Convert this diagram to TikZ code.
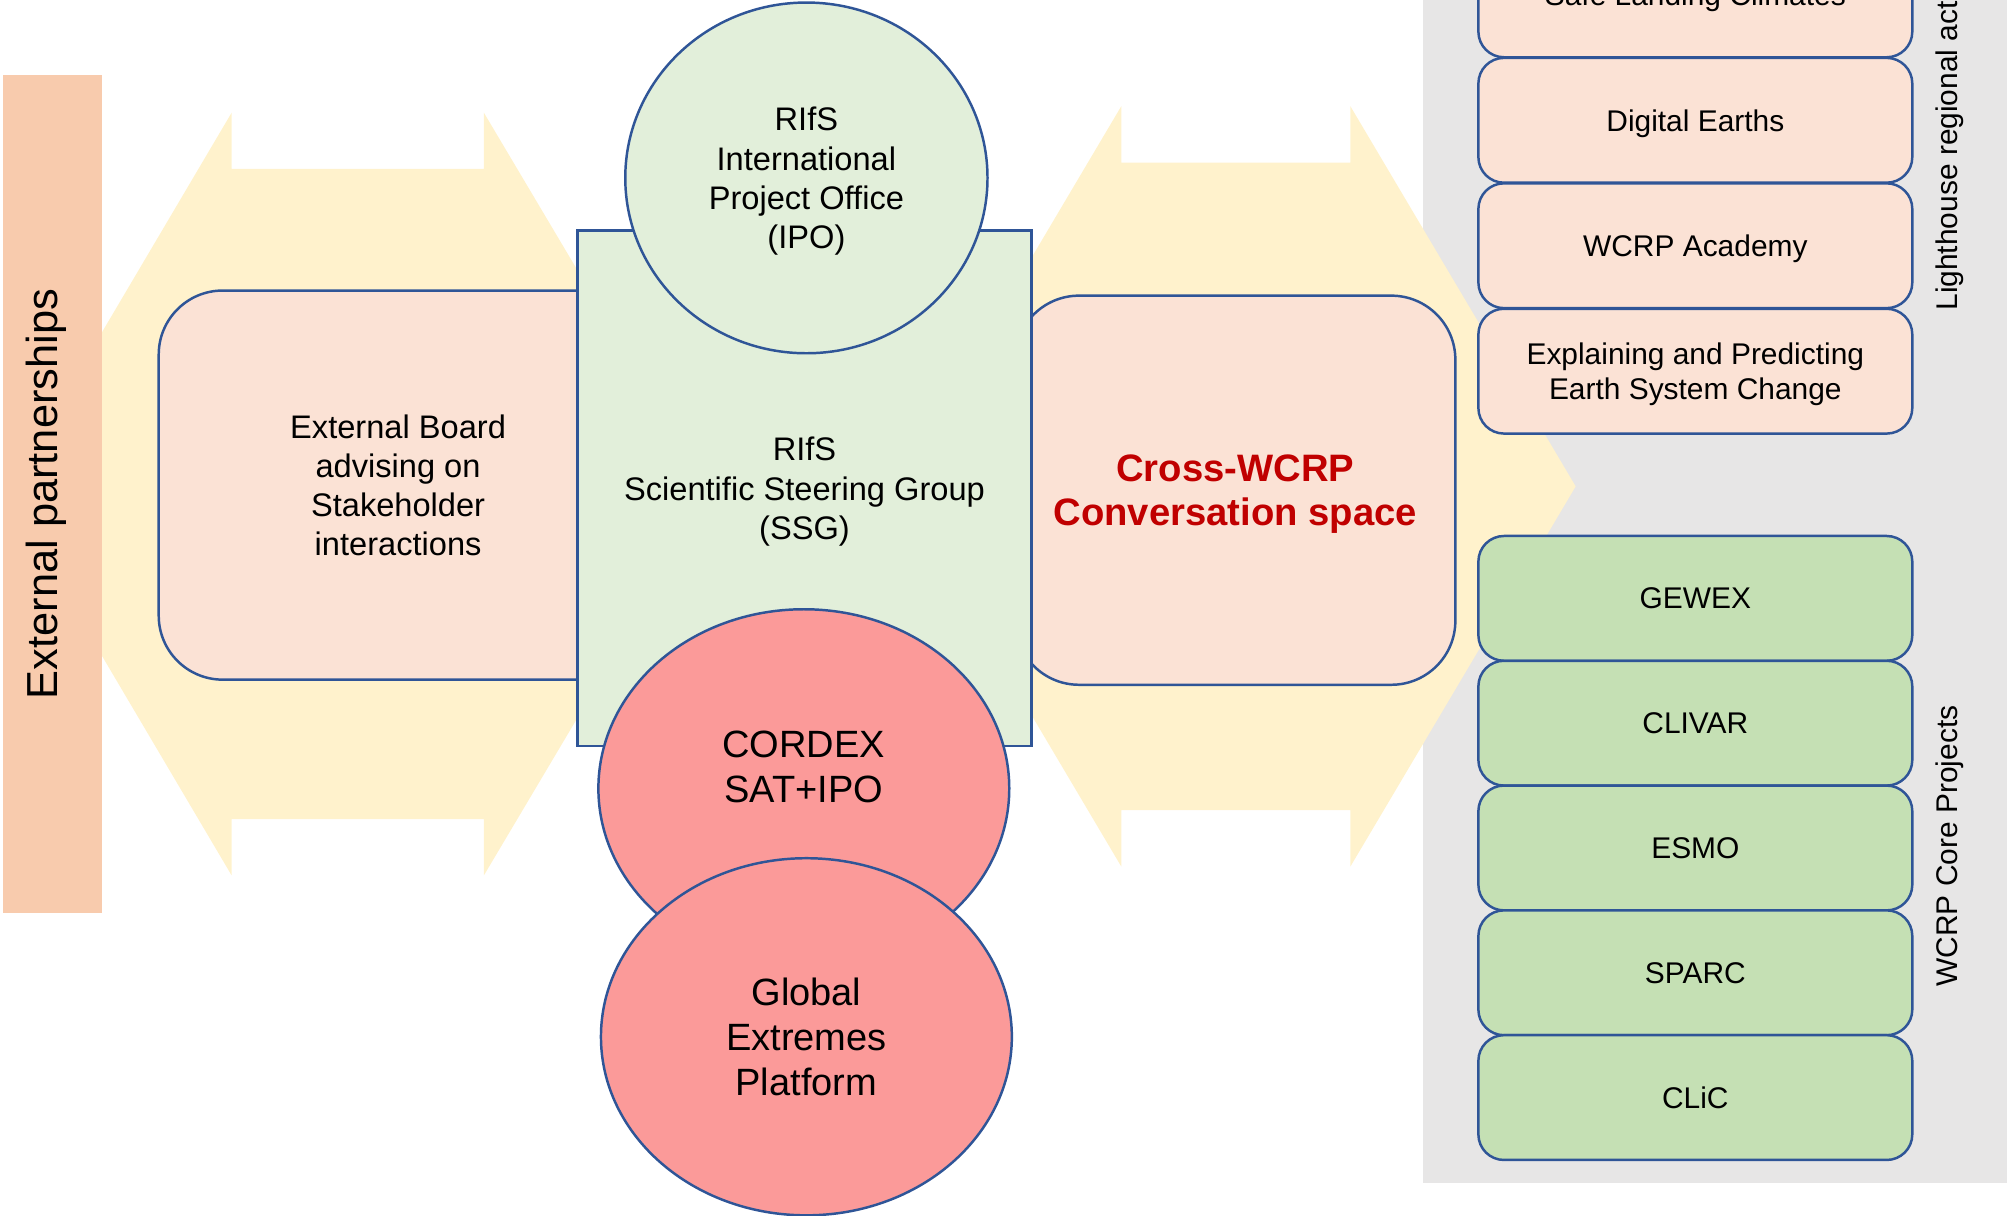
\documentclass[tikz,border=0pt]{standalone}
\usepackage{fontspec}
\setmainfont{Liberation Sans}
\usetikzlibrary{shapes.geometric}

\definecolor{armyellow}{HTML}{FFF2CC}
\definecolor{partpeach}{HTML}{F8CBAD}
\definecolor{boxpeach}{HTML}{FBE2D5}
\definecolor{ssggreen}{HTML}{E2EFDA}
\definecolor{coregreen}{HTML}{C5E0B4}
\definecolor{extrred}{HTML}{FB9A99}
\definecolor{panelgray}{HTML}{E7E6E6}
\definecolor{edgeblue}{HTML}{2F5597}
\definecolor{crossred}{HTML}{C00000}

\tikzset{
  edged/.style={draw=edgeblue, line width=1.1pt, text depth=0pt},
  bigbox/.style={edged, fill=boxpeach, rounded corners=1cm, minimum height=6.08cm, align=center, font=\fontsize{14.5}{17.4}\selectfont},
  oval/.style={edged, ellipse, inner sep=0pt, align=center},
  stackbox/.style={edged, rounded corners=0.4cm, minimum width=6.78cm, minimum height=1.95cm, align=center, font=\fontsize{13.3}{15.9}\selectfont},
  sidelabel/.style={rotate=90, inner sep=0pt, font=\fontsize{13.3}{15.9}\selectfont}
}

\begin{document}
\begin{tikzpicture}
    \useasboundingbox (0,0) rectangle (31.36,19);
    \clip (0,0) rectangle (31.36,19);
    % grey panel
    \fill[panelgray] (22.24,0.52) rectangle (31.36,19);
    % double arrows
    \fill[armyellow] (0.1,11.28)--(3.62,17.24)--(3.62,16.36)--(7.56,16.36)--(7.56,17.24)--(11.1,11.28)--(7.56,5.32)--(7.56,6.2)--(3.62,6.2)--(3.62,5.32)--cycle;
    \fill[armyellow] (14.0,11.4)--(17.52,17.34)--(17.52,16.46)--(21.1,16.46)--(21.1,17.34)--(24.62,11.4)--(21.1,5.46)--(21.1,6.34)--(17.52,6.34)--(17.52,5.46)--cycle;
    % external partnerships bar
    \node[fill=partpeach, minimum width=1.56cm, minimum height=13.08cm, inner sep=0pt] (extbar) at (0.82,11.28) {};
    \node[rotate=90, text depth=0pt, font=\fontsize{19.3}{23}\selectfont] (exttext) at (0.66,11.28) {External partnerships};
    % boxes
    \node[bigbox, minimum width=7.48cm] (board) at (6.22,11.42) {External Board\\advising on\\Stakeholder\\interactions};
    \node[bigbox, minimum width=6.88cm, text=crossred, font=\bfseries\fontsize{17}{19.4}\selectfont] (cross) at (19.3,11.34) {Cross-WCRP\\Conversation space};
    \node[edged, fill=ssggreen, minimum width=7.1cm, minimum height=8.06cm, align=center, font=\fontsize{14.5}{17.4}\selectfont] (ssg) at (12.57,11.37) {RIfS\\Scientific Steering Group\\(SSG)};
    % ovals
    \node[oval, fill=ssggreen, minimum width=5.66cm, minimum height=5.48cm, font=\fontsize{14.5}{17.4}\selectfont] (ipo) at (12.6,16.22) {RIfS\\International\\Project Office\\(IPO)};
    \node[oval, fill=extrred, minimum width=6.42cm, minimum height=5.6cm] (cordex) at (12.56,6.68) {};
    \node[align=center, text depth=0pt, font=\fontsize{16.9}{20.2}\selectfont] (cordextext) at (12.56,7.02) {CORDEX\\SAT+IPO};
    \node[oval, fill=extrred, minimum width=6.42cm, minimum height=5.58cm, font=\fontsize{16.9}{20.2}\selectfont] (gep) at (12.6,2.8) {Global\\Extremes\\Platform};
    % right stacks
    \foreach \txt [count=\i from 0] in {{Explaining and Predicting\\Earth System Change}, WCRP Academy, Digital Earths, Safe Landing Climates}
        \node[stackbox, fill=boxpeach] (light\i) at (26.49,13.2+1.96*\i) {\txt};
    \foreach \txt [count=\i from 0] in {GEWEX, CLIVAR, ESMO, SPARC, CLiC}
        \node[stackbox, fill=coregreen] (core\i) at (26.49,9.65-1.95*\i) {\txt};
    \node[sidelabel, anchor=west] (lighthouse) at (30.46,14.14) {Lighthouse regional activities};
    \node[sidelabel] (coreproj) at (30.46,5.78) {WCRP Core Projects};
\end{tikzpicture}
\end{document}
